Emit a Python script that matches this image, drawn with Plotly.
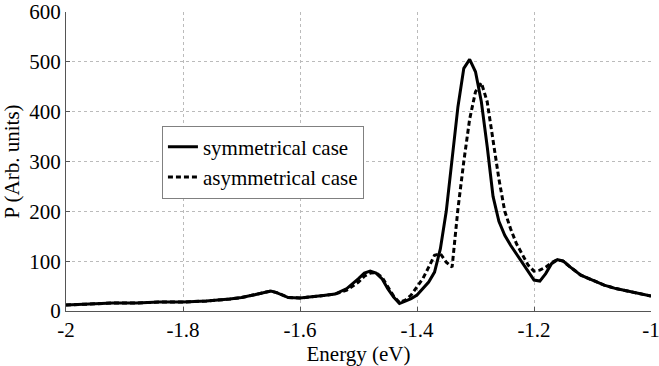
import plotly.graph_objects as go

energy = [-2.00, -1.96, -1.92, -1.88, -1.84, -1.80, -1.76, -1.72, -1.70, -1.68,
          -1.66, -1.65, -1.64, -1.62, -1.60, -1.58, -1.56, -1.54, -1.52, -1.50,
          -1.49, -1.48, -1.47, -1.46, -1.45, -1.44, -1.43, -1.42, -1.41, -1.40,
          -1.39, -1.38, -1.37, -1.36, -1.35, -1.34, -1.33, -1.32, -1.31, -1.30,
          -1.29, -1.28, -1.27, -1.26, -1.25, -1.24, -1.23, -1.22, -1.21, -1.20,
          -1.19, -1.18, -1.17, -1.16, -1.15, -1.14, -1.12, -1.10, -1.08, -1.06,
          -1.04, -1.02, -1.00]

symmetrical = [12, 14, 16, 16, 18, 18, 20, 24, 27, 32,
               38, 40, 37, 27, 26, 28, 31, 34, 45, 65,
               76, 80, 76, 65, 45, 28, 15, 20, 25, 32,
               45, 58, 78, 125, 200, 300, 410, 487, 505, 480,
               420, 330, 230, 180, 152, 132, 115, 98, 80, 62,
               60, 75, 95, 103, 100, 90, 72, 62, 52, 45,
               40, 35, 30]

asymmetrical = [12, 14, 16, 16, 18, 18, 20, 24, 27, 32,
                38, 40, 37, 27, 26, 28, 31, 34, 42, 58,
                70, 76, 77, 68, 50, 30, 17, 22, 32, 48,
                65, 88, 112, 115, 98, 88, 205, 300, 385, 440,
                458, 420, 345, 265, 200, 165, 135, 112, 92, 80,
                82, 88, 97, 103, 100, 90, 72, 62, 52, 45,
                40, 35, 30]

x_ticks = [-2, -1.8, -1.6, -1.4, -1.2, -1]
x_ticktext = ["-2", "-1.8", "-1.6", "-1.4", "-1.2", "-1"]
y_ticks = [0, 100, 200, 300, 400, 500, 600]

font_family = "Liberation Serif, serif"

fig = go.Figure()
fig.add_trace(go.Scatter(x=energy, y=symmetrical, mode="lines",
                         name="symmetrical case",
                         line=dict(color="black", width=3)))
fig.add_trace(go.Scatter(x=energy, y=asymmetrical, mode="lines",
                         name="asymmetrical case",
                         line=dict(color="black", width=3, dash="5px,3px")))

fig.update_layout(
    width=659, height=366,
    margin=dict(l=66, r=8, t=12, b=55),
    paper_bgcolor="white", plot_bgcolor="white",
    font=dict(family=font_family, size=21, color="black"),
    showlegend=True,
    legend=dict(x=0.164, y=0.62, xanchor="left", yanchor="top",
                bgcolor="white", bordercolor="#808080", borderwidth=1,
                font=dict(family=font_family, size=21, color="black"),
                itemwidth=30, tracegroupgap=0),
)
fig.update_xaxes(range=[-2, -1], tickvals=x_ticks, ticktext=x_ticktext,
                 ticklabeloverflow="allow", automargin=False,
                 showgrid=True, gridcolor="#bbbbbb", griddash="dot", gridwidth=1,
                 showline=True, linecolor="#555555", linewidth=1,
                 ticks="inside", ticklen=4, tickcolor="#555555",
                 zeroline=False,
                 title=dict(text="Energy (eV)", standoff=2,
                            font=dict(family=font_family, size=21)))
fig.update_yaxes(range=[0, 600], tickvals=y_ticks,
                 ticklabeloverflow="allow", automargin=False,
                 showgrid=True, gridcolor="#bbbbbb", griddash="dot", gridwidth=1,
                 showline=True, linecolor="#555555", linewidth=1,
                 ticks="inside", ticklen=4, tickcolor="#555555",
                 zeroline=False,
                 title=dict(text="P (Arb. units)", standoff=4,
                            font=dict(family=font_family, size=21)))

fig.write_html("out.html")
